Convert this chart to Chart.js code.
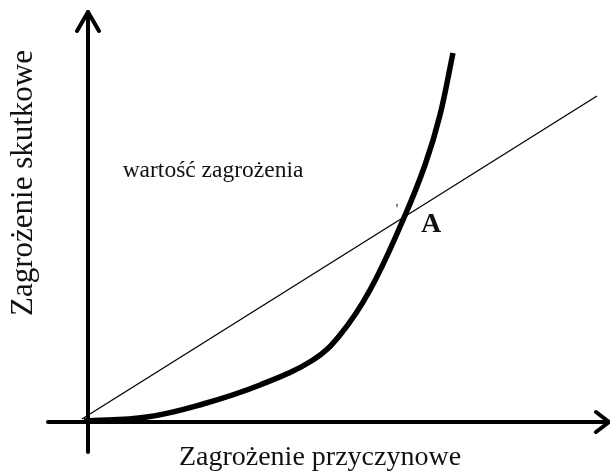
<!DOCTYPE html>
<html>
<head>
<meta charset="utf-8">
<script src="https://cdn.jsdelivr.net/npm/chart.js@4"></script>
<style>
  html, body { margin: 0; padding: 0; background: #fff; }
  #wrap { width: 610px; height: 473px; }
</style>
</head>
<body>
<div id="wrap"><canvas id="chart"></canvas></div>
<script>
// values in chart units (origin = crossing of the axes)
const curveX = [-0.4, 5.9, 11.5, 17.2, 22.5, 25.2, 28.2, 31.5, 33.7, 35.2, 36.5];
const curveY = [0.1, 0.5, 1.8, 3.7, 6.2, 8.7, 13.2, 20.2, 25.7, 30.7, 36.9];
const lineX = [-0.6, 50.9];
const lineY = [0.3, 32.6];
const xAxisRange = [-4.0, 52.1];
const yAxisRange = [-3.0, 41.0];

const xTitle = 'Zagrożenie przyczynowe';
const yTitle = 'Zagrożenie skutkowe';
const noteText = 'wartość zagrożenia';
const pointLabel = 'A';

const toPoints = (xs, ys) => xs.map((x, i) => ({ x: x, y: ys[i] }));

const arrowsAndText = {
  id: 'arrowsAndText',
  afterDatasetsDraw(chart) {
    const ctx = chart.ctx;
    const xs = chart.scales.x, ys = chart.scales.y;
    ctx.save();
    ctx.strokeStyle = '#000';
    ctx.lineWidth = 4;
    ctx.lineCap = 'round';
    ctx.lineJoin = 'round';

    // x arrow head
    let tx = xs.getPixelForValue(xAxisRange[1]), ty = ys.getPixelForValue(0);
    ctx.beginPath();
    ctx.moveTo(tx - 13, ty - 10);
    ctx.lineTo(tx, ty);
    ctx.lineTo(tx - 13, ty + 10);
    ctx.stroke();

    // y arrow head
    tx = xs.getPixelForValue(0); ty = ys.getPixelForValue(yAxisRange[1]);
    ctx.beginPath();
    ctx.moveTo(tx - 11, ty + 19);
    ctx.lineTo(tx, ty);
    ctx.lineTo(tx + 11, ty + 19);
    ctx.stroke();

    ctx.fillStyle = '#111';
    ctx.textAlign = 'center';
    ctx.textBaseline = 'alphabetic';

    ctx.font = '28px "Liberation Serif"';
    ctx.fillText(xTitle, 320, 465);

    ctx.font = '23.5px "Liberation Serif"';
    ctx.fillText(noteText, 213, 177);

    ctx.font = 'bold 28px "Liberation Serif"';
    ctx.fillText(pointLabel, 431, 232);

    ctx.font = '14px "Liberation Serif"';
    ctx.fillText("'", 397, 214);

    ctx.translate(32, 183);
    ctx.rotate(-Math.PI / 2);
    ctx.font = '31px "Liberation Serif"';
    ctx.fillText(yTitle, 0, 0);
    ctx.restore();
  }
};

new Chart(document.getElementById('chart'), {
  type: 'scatter',
  data: {
    datasets: [
      {
        data: toPoints(xAxisRange, [0, 0]),
        showLine: true, borderColor: '#000', borderWidth: 4, pointRadius: 0, borderCapStyle: 'round'
      },
      {
        data: toPoints([0, 0], yAxisRange),
        showLine: true, borderColor: '#000', borderWidth: 4, pointRadius: 0, borderCapStyle: 'round'
      },
      {
        data: toPoints(lineX, lineY),
        showLine: true, borderColor: '#000', borderWidth: 1.3, pointRadius: 0
      },
      {
        data: toPoints(curveX, curveY),
        showLine: true, borderColor: '#000', borderWidth: 5.5, pointRadius: 0,
        tension: 0.4, borderCapStyle: 'butt'
      }
    ]
  },
  options: {
    responsive: true,
    maintainAspectRatio: false,
    animation: false,
    layout: { padding: 0 },
    plugins: { legend: { display: false }, tooltip: { enabled: false } },
    scales: {
      x: { type: 'linear', min: -8.8, max: 52.2, display: false },
      y: { type: 'linear', min: -5.1, max: 42.2, display: false }
    }
  },
  plugins: [arrowsAndText]
});
</script>
</body>
</html>
